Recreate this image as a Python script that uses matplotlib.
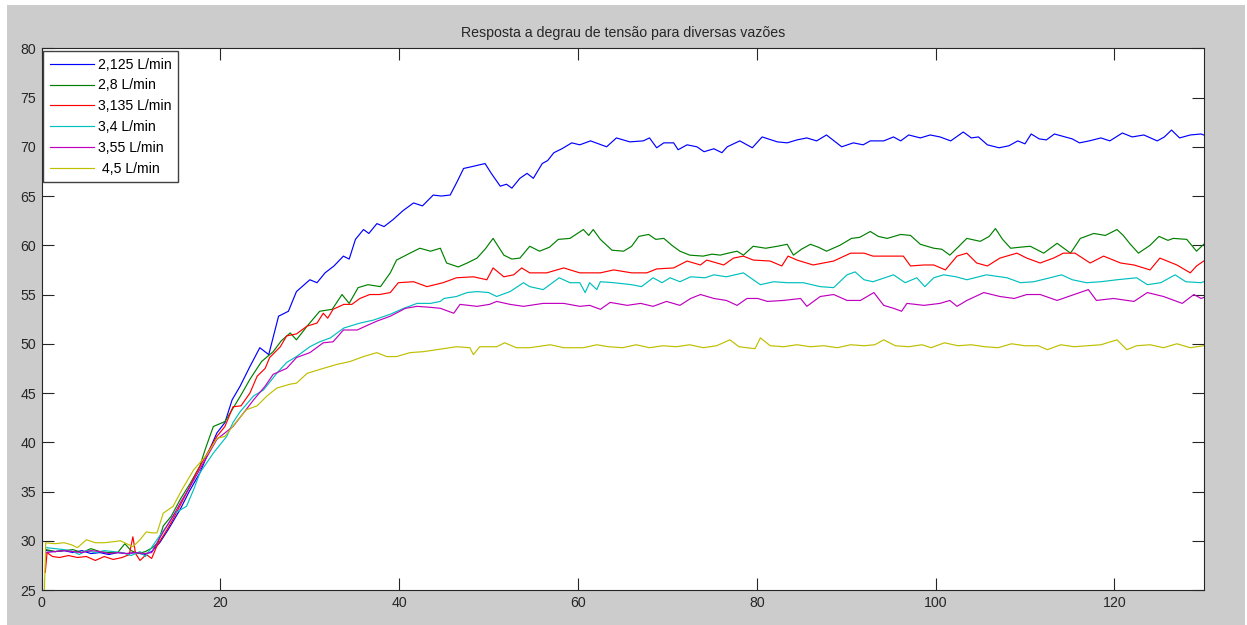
import matplotlib
matplotlib.use("Agg")
import matplotlib.pyplot as plt
from matplotlib.patches import Rectangle

title = "Resposta a degrau de tensão para diversas vazões"
labels = ["2,125 L/min", "2,8 L/min", "3,135 L/min", "3,4 L/min", "3,55 L/min", " 4,5 L/min"]
x_ticks = [0, 20, 40, 60, 80, 100, 120]
y_ticks = [25, 30, 35, 40, 45, 50, 55, 60, 65, 70, 75, 80]

blue = [(0.5,29.0),(1.5,28.9),(2.5,29.0),(3.5,28.8),(4.5,29.0),(5.5,28.7),(6.5,28.8),(7.5,28.6),(8.5,28.8),(9.5,28.7),(10.5,28.8),(11.5,28.6),(12.3,28.9),(13.2,29.8),(14.2,31.2),(15.5,33.2),(16.5,35.0),(17.7,36.9),(18.8,39.3),(19.6,40.95),(20.5,42.0),(21.3,44.3),(22.2,45.7),(23.3,47.7),(24.4,49.6),(25.4,48.9),(26.5,52.8),(27.6,53.3),(28.5,55.3),(30.0,56.5),(30.8,56.2),(31.7,57.2),(32.7,57.9),(33.75,58.9),(34.4,58.6),(35.1,60.6),(36.0,61.6),(36.6,61.2),(37.5,62.2),(38.3,61.9),(39.3,62.6),(40.4,63.5),(41.6,64.3),(42.6,64.0),(43.8,65.1),(44.7,65.0),(45.7,65.1),(46.5,66.5),(47.2,67.8),(48.2,68.0),(49.6,68.3),(50.3,67.3),(51.3,66.0),(52.0,66.2),(52.6,65.8),(53.5,66.8),(54.3,67.3),(55.0,66.8),(56.0,68.3),(56.6,68.6),(57.3,69.4),(58.2,69.8),(59.3,70.4),(60.2,70.2),(61.4,70.6),(63.2,70.0),(64.3,70.9),(65.8,70.5),(67.3,70.6),(68.0,70.9),(68.8,69.9),(69.6,70.4),(70.7,70.4),(71.2,69.7),(72.2,70.2),(73.3,70.0),(74.1,69.5),(75.2,69.8),(76.1,69.4),(76.7,70.0),(78.1,70.6),(79.5,69.9),(80.6,71.0),(82.3,70.5),(83.4,70.4),(84.5,70.7),(85.6,70.9),(86.7,70.6),(87.8,71.2),(89.5,70.0),(90.8,70.4),(91.9,70.2),(92.7,70.6),(94.2,70.6),(95.3,71.0),(96.1,70.6),(97.0,71.2),(98.3,70.9),(99.4,71.2),(100.5,71.0),(101.7,70.6),(103.1,71.5),(104.0,70.9),(104.8,71.0),(105.8,70.2),(107.1,69.9),(108.2,70.1),(109.2,70.6),(110.0,70.3),(110.7,71.3),(111.6,70.8),(112.4,70.7),(113.3,71.3),(114.5,71.0),(115.3,70.8),(116.1,70.4),(117.2,70.6),(118.5,70.9),(119.5,70.6),(120.9,71.4),(122.0,71.0),(123.3,71.2),(124.8,70.6),(125.6,71.0),(126.4,71.7),(127.3,70.9),(128.5,71.2),(129.7,71.3),(130,71.2)]

green = [(0.5,29.1),(1.5,28.9),(2.5,29.0),(3.5,29.1),(4.5,28.8),(5.5,29.2),(6.5,28.9),(7.5,28.8),(8.5,28.8),(9.3,29.7),(10.0,29.0),(10.8,28.7),(11.6,28.9),(12.4,29.3),(13.0,29.8),(13.6,31.5),(14.5,32.5),(15.5,34.2),(16.6,35.8),(17.7,37.6),(18.3,39.3),(19.2,41.6),(20.5,42.1),(21.3,43.3),(22.3,44.8),(23.3,46.4),(24.6,48.2),(25.9,49.2),(26.8,50.3),(27.8,51.1),(28.5,50.4),(29.7,51.8),(31.1,53.3),(32.5,53.5),(33.6,55.0),(34.4,54.1),(35.4,55.7),(36.5,56.0),(37.9,55.8),(39.0,57.2),(39.7,58.5),(41.2,59.2),(42.3,59.7),(43.5,59.4),(44.6,59.7),(45.3,58.2),(46.6,57.8),(47.6,58.2),(48.7,58.7),(49.6,59.6),(50.5,60.7),(51.7,59.0),(52.6,58.6),(53.5,58.7),(54.6,59.9),(55.7,59.4),(56.8,59.8),(57.8,60.6),(59.1,60.7),(60.6,61.6),(61.2,61.0),(61.7,61.6),(62.5,60.6),(63.8,59.5),(65.1,59.4),(66.0,59.9),(66.8,60.9),(67.9,61.1),(68.7,60.6),(69.6,60.7),(70.5,60.0),(71.4,59.4),(72.5,59.0),(74.0,58.9),(75.0,59.1),(75.9,59.0),(76.8,59.2),(77.8,59.4),(78.5,59.0),(79.6,59.9),(81.0,59.7),(82.3,59.9),(83.4,60.1),(84.1,59.0),(85.0,59.6),(86.0,60.1),(86.9,59.8),(87.8,59.4),(89.3,60.0),(90.6,60.7),(91.5,60.8),(92.7,61.4),(93.6,60.9),(94.6,60.7),(96.1,61.1),(97.2,61.0),(98.3,60.1),(99.8,59.7),(100.7,59.6),(101.6,59.0),(102.5,59.8),(103.5,60.7),(105.0,60.4),(106.0,60.9),(106.7,61.7),(107.5,60.6),(108.4,59.7),(109.4,59.8),(110.6,59.9),(112.1,59.2),(113.6,60.2),(115.1,59.2),(116.2,60.7),(117.7,61.2),(119.0,61.0),(120.3,61.6),(121.0,61.0),(121.8,60.1),(122.7,59.2),(124.0,60.0),(125.0,60.9),(126.0,60.5),(126.6,60.7),(128.1,60.6),(129.2,59.4),(130,60.1)]

red = [(0.4,26.8),(0.6,28.8),(1.2,28.4),(2.0,28.3),(3.0,28.5),(4.0,28.3),(5.0,28.4),(6.0,28.0),(7.0,28.4),(8.0,28.1),(9.0,28.3),(9.8,28.6),(10.2,30.4),(10.5,28.7),(11.0,28.0),(11.7,28.6),(12.3,28.2),(12.9,29.5),(13.8,30.8),(14.7,32.2),(15.5,33.6),(16.4,35.2),(17.2,36.7),(18.1,38.2),(19.6,40.6),(20.5,41.6),(21.4,43.6),(22.3,43.7),(23.3,45.0),(24.1,46.7),(25.0,47.5),(25.5,48.6),(26.7,49.7),(27.4,50.8),(28.5,51.0),(29.7,51.8),(30.8,52.1),(31.5,53.1),(32.0,52.6),(32.6,53.5),(33.8,54.0),(34.7,54.0),(35.6,54.6),(36.7,55.0),(37.8,55.0),(39.0,55.2),(39.9,56.2),(41.6,56.3),(43.1,55.8),(44.9,56.2),(46.4,56.7),(48.3,56.8),(49.8,56.5),(50.5,57.7),(51.7,56.8),(52.8,57.0),(53.7,57.7),(54.6,57.2),(56.5,57.2),(58.4,57.7),(60.2,57.2),(62.5,57.2),(64.0,57.5),(66.0,57.2),(67.7,57.2),(68.8,57.6),(70.7,57.7),(72.2,58.4),(73.7,58.0),(74.4,58.5),(76.3,58.0),(77.4,58.7),(78.5,58.9),(79.6,58.5),(81.5,58.4),(82.8,57.9),(83.5,58.9),(84.5,58.5),(86.3,58.0),(88.6,58.4),(90.5,59.2),(92.0,59.2),(93.0,58.9),(94.9,58.9),(96.4,58.9),(97.2,57.9),(98.7,58.0),(99.8,58.0),(101.1,57.5),(102.4,58.9),(103.5,59.2),(104.6,58.2),(105.8,57.9),(107.2,58.7),(109.1,59.2),(110.2,58.7),(111.7,58.2),(113.2,58.7),(114.3,59.2),(115.6,59.2),(117.3,58.2),(118.8,58.9),(120.7,58.2),(122.2,58.0),(124.0,57.5),(125.1,58.7),(127.0,58.0),(128.5,57.2),(129.2,57.9),(130,58.4)]

cyan = [(0.5,29.3),(1.5,29.2),(2.5,29.1),(3.5,28.9),(4.2,28.6),(5.0,29.0),(6.0,28.8),(7.0,29.0),(8.0,28.9),(9.0,28.8),(10.0,28.5),(11.0,28.9),(11.6,28.4),(12.2,29.2),(13.2,30.5),(14.0,31.5),(14.9,32.8),(16.2,33.5),(17.0,35.2),(17.7,36.9),(19.2,38.9),(20.7,40.6),(21.4,42.0),(22.2,43.1),(23.7,44.7),(24.8,45.3),(26.3,47.0),(27.4,48.1),(28.5,48.7),(30.0,49.7),(31.1,50.2),(32.3,50.6),(33.8,51.6),(35.6,52.1),(37.1,52.4),(39.0,53.0),(40.5,53.6),(42.0,54.1),(43.5,54.1),(44.6,54.3),(45.0,54.6),(46.4,54.8),(47.6,55.2),(48.7,55.3),(50.0,55.2),(50.9,54.8),(52.4,55.3),(53.9,56.2),(54.6,55.8),(56.1,55.5),(57.9,56.7),(59.1,56.2),(60.2,56.2),(60.8,55.2),(61.3,56.2),(62.1,55.5),(62.5,56.3),(64.0,56.2),(66.0,56.0),(67.1,55.8),(68.4,56.7),(69.4,56.2),(70.3,56.7),(71.4,56.3),(72.6,56.8),(74.2,56.7),(75.2,57.0),(76.6,56.8),(78.5,57.2),(80.4,56.0),(81.9,56.3),(83.4,56.2),(85.2,56.2),(87.1,55.8),(88.6,55.7),(90.1,57.0),(91.0,57.3),(92.0,56.5),(93.0,56.3),(95.3,57.0),(96.6,56.2),(97.9,56.7),(98.8,55.8),(99.8,56.7),(100.9,57.0),(102.3,56.8),(103.5,56.5),(105.7,57.0),(108.0,56.7),(109.5,56.2),(111.0,56.3),(112.8,56.7),(114.1,57.0),(115.3,56.5),(116.9,56.2),(118.5,56.3),(120.3,56.5),(122.5,56.7),(123.7,56.0),(125.2,56.2),(126.8,57.0),(128.0,56.3),(129.7,56.2),(130,56.3)]

magenta = [(0.5,28.8),(1.5,28.9),(2.5,29.0),(3.5,28.9),(4.5,28.8),(5.5,29.0),(6.5,28.9),(7.5,28.7),(8.5,28.8),(9.5,28.7),(10.5,28.8),(11.5,28.7),(12.3,28.8),(12.9,29.8),(13.8,31.2),(14.7,32.5),(15.6,34.0),(16.6,35.5),(18.1,37.9),(19.6,40.3),(21.4,41.6),(22.6,43.0),(23.7,44.3),(25.0,45.7),(25.9,46.9),(27.4,47.5),(28.5,48.6),(30.0,49.1),(31.5,50.1),(32.6,50.2),(33.75,51.4),(35.3,51.4),(36.5,51.9),(37.5,52.3),(39.0,52.8),(40.7,53.6),(42.0,53.8),(43.5,53.7),(44.6,53.6),(46.1,53.1),(46.8,54.0),(48.7,53.8),(50.1,54.0),(50.9,54.3),(52.4,54.0),(53.9,53.8),(56.1,54.1),(58.4,54.1),(60.2,53.8),(61.3,53.9),(62.5,53.5),(63.6,54.2),(65.5,53.9),(67.0,54.1),(68.4,53.8),(69.9,54.3),(71.4,53.9),(72.6,54.6),(73.7,55.0),(75.2,54.6),(76.6,54.4),(77.8,53.9),(78.9,54.6),(80.1,54.6),(81.2,54.3),(83.0,54.4),(84.9,54.6),(85.6,53.8),(87.1,54.8),(88.6,55.0),(90.1,54.4),(91.6,54.4),(93.1,55.2),(94.2,53.9),(95.3,53.6),(96.2,53.3),(96.8,54.1),(98.7,53.9),(100.5,54.1),(101.6,54.4),(102.4,53.8),(103.5,54.4),(105.4,55.2),(107.2,54.8),(108.8,54.6),(110.2,55.0),(111.7,55.0),(113.6,54.4),(115.5,55.0),(117.1,55.5),(118.0,54.4),(119.9,54.6),(122.2,54.3),(123.7,55.2),(125.5,54.8),(127.6,54.1),(128.9,55.0),(129.7,54.6),(130,54.7)]

yellow = [(0.3,24.9),(0.45,29.8),(1.5,29.7),(2.5,29.8),(3.3,29.6),(4.0,29.3),(5.0,30.1),(6.0,29.8),(7.0,29.8),(8.0,29.9),(8.8,30.0),(9.5,29.7),(10.2,29.4),(11.0,30.1),(11.7,30.9),(12.3,30.8),(12.9,30.8),(13.6,32.8),(14.7,33.5),(15.7,35.2),(17.0,37.2),(18.5,38.75),(19.6,40.4),(20.5,40.6),(21.1,41.3),(21.8,42.1),(22.9,43.3),(24.1,43.7),(25.2,44.7),(26.3,45.5),(27.8,45.9),(28.5,46.0),(29.7,47.0),(31.5,47.5),(33.0,47.9),(34.5,48.2),(36.0,48.7),(37.5,49.1),(38.6,48.7),(39.7,48.7),(41.2,49.1),(42.7,49.2),(44.2,49.4),(46.4,49.7),(47.9,49.6),(48.3,48.9),(49.0,49.7),(50.9,49.7),(51.8,50.1),(53.1,49.6),(54.6,49.6),(56.9,49.9),(58.4,49.6),(60.6,49.6),(62.1,49.9),(63.4,49.7),(65.0,49.6),(66.5,49.9),(68.0,49.6),(69.5,49.8),(71.0,49.7),(72.5,49.9),(74.0,49.6),(75.5,49.8),(77.0,50.4),(78.0,49.7),(79.8,49.5),(80.4,50.6),(81.5,49.8),(83.0,49.7),(84.5,49.9),(86.0,49.7),(87.5,49.8),(89.0,49.6),(90.5,49.9),(92.0,49.8),(93.2,49.9),(94.2,50.4),(95.5,49.8),(97.0,49.7),(98.5,49.9),(99.5,49.6),(101.0,50.1),(102.5,49.8),(104.0,49.9),(105.5,49.7),(107.0,49.6),(108.5,50.0),(110.0,49.8),(111.5,49.8),(112.5,49.4),(114.0,49.9),(115.5,49.7),(117.0,49.8),(118.5,49.9),(120.3,50.4),(121.4,49.4),(122.5,49.8),(124.0,49.9),(125.5,49.6),(127.0,50.0),(128.5,49.6),(130,49.8)]

series = [blue, green, red, cyan, magenta, yellow]
colors = ["#0000ff", "#008000", "#ff0000", "#00bfbf", "#bf00bf", "#bfbf00"]

plt.rcParams['font.family'] = ['Liberation Sans', 'DejaVu Sans']
FS = 10.2

W, H = 1247, 625
fig = plt.figure(figsize=(W / 100, H / 100), dpi=100, facecolor='white')
bg = Rectangle((7 / W, 0), (1245 - 7) / W, (625 - 5) / H, transform=fig.transFigure,
               facecolor='#cccccc', edgecolor='none', zorder=-10)
fig.add_artist(bg)

ax = fig.add_axes([41.7 / W, 1 - 590 / H, (1203.7 - 41.7) / W, (590 - 48.3) / H])
ax.set_facecolor('white')

for data, c, lab in zip(series, colors, labels):
    t = [p[0] for p in data]
    v = [p[1] for p in data]
    ax.plot(t, v, color=c, lw=0.85, label=lab)

ax.set_xlim(0, 130)
ax.set_ylim(25, 80)
ax.set_xticks(x_ticks)
ax.set_yticks(y_ticks)
ax.tick_params(direction='in', length=8.5, width=0.8, top=True, right=True,
               labelsize=FS, colors='#262626', pad=4)
for s in ax.spines.values():
    s.set_color('#262626')
    s.set_linewidth(0.8)

ax.set_title(title, fontsize=FS, color='#262626', pad=8)

leg = ax.legend(loc='upper left', bbox_to_anchor=(43.3 / W, 1 - 51.3 / H),
                bbox_transform=fig.transFigure, fancybox=False, framealpha=1,
                edgecolor='#404040', fontsize=FS, handlelength=3.1,
                handletextpad=0.3, labelspacing=0.48, borderpad=0.45,
                borderaxespad=0)
leg.get_frame().set_linewidth(1.0)

fig.savefig('out.png', dpi=100, facecolor=fig.get_facecolor())
